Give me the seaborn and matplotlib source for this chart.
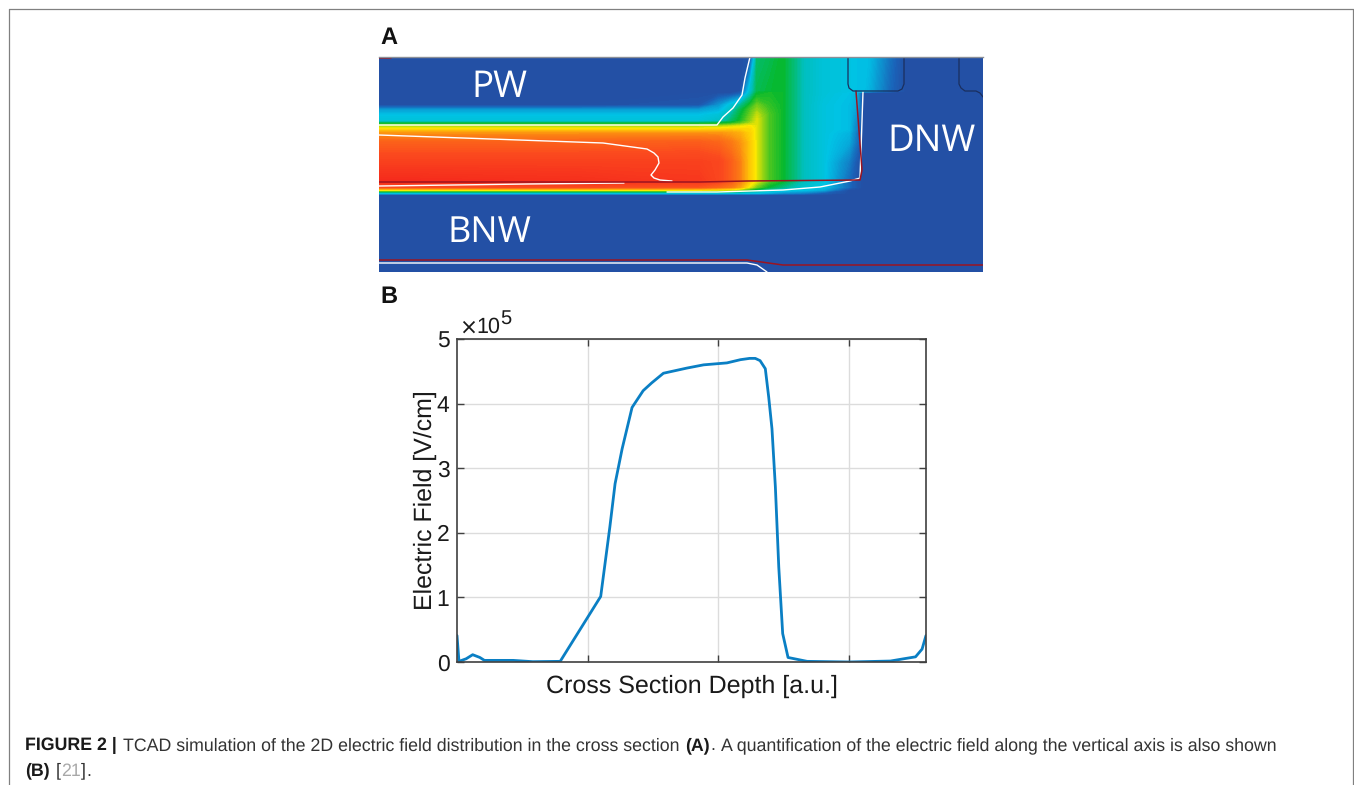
import matplotlib
matplotlib.use('Agg')
import matplotlib.pyplot as plt
import numpy as np
import seaborn as sns
from matplotlib.colors import LinearSegmentedColormap
from matplotlib.lines import Line2D

W, H = 1354, 785

# panel B curve, field in units of 1e5 V/cm
depth = [0, .015, .07, .12, .175, .21, .43, .58, .79, 1.10, 1.17, 1.21, 1.264, 1.34, 1.425, 1.49, 1.58,
         1.76, 1.888, 2.066, 2.17, 2.24, 2.283, 2.32, 2.36, 2.386, 2.411, 2.437, 2.463, 2.493, 2.534, 2.68,
         3.0, 3.318, 3.42, 3.51, 3.56, 3.59]
field = [.41, .01, .05, .113, .07, .025, .025, .005, .01, 1.015, 2.09, 2.76, 3.30, 3.94, 4.2, 4.32, 4.47,
         4.55, 4.60, 4.63, 4.68, 4.70, 4.70, 4.665, 4.54, 4.10, 3.61, 2.71, 1.47, .44, .07, .01,
         0, .015, .05, .08, .2, .41]
y_ticks = [0, 1, 2, 3, 4, 5]
x_ticks = [1, 2, 3]

# panel A field map, normalised, on an uneven grid (lateral position, depth)
a_x = [0, 200, 320, 340, 352, 361, 371, 378, 390, 404, 425, 444, 470, 478, 484, 490, 510, 526, 604]
a_y = [0, 34, 36, 48, 53, 58, 64, 66, 69, 72, 76, 85, 105, 124, 130, 133, 136, 138, 215]
a_field = [
    [0, 0, 0, 0, 0, 0, .02, .40, .42, .45, .33, .28, .26, .25, .25, .24, .10, 0, 0],
    [0, 0, 0, 0, 0, 0, .30, .42, .44, .45, .33, .28, .26, .25, .25, .22, .08, 0, 0],
    [0, 0, 0, 0, 0, .04, .32, .44, .46, .45, .33, .28, .25, .22, 0, 0, 0, 0, 0],
    [0, 0, .02, .16, .28, .36, .46, .52, .48, .45, .33, .27, .24, .20, 0, 0, 0, 0, 0],
    [.18, .18, .18, .22, .32, .42, .50, .55, .49, .45, .33, .27, .24, .18, 0, 0, 0, 0, 0],
    [.25, .25, .25, .28, .36, .44, .52, .58, .50, .45, .33, .27, .24, .16, 0, 0, 0, 0, 0],
    [.28, .28, .28, .32, .40, .46, .54, .60, .50, .45, .33, .27, .24, .14, 0, 0, 0, 0, 0],
    [.42, .42, .42, .43, .46, .50, .56, .60, .50, .45, .33, .27, .24, .13, 0, 0, 0, 0, 0],
    [.56, .56, .56, .56, .58, .60, .62, .60, .50, .45, .33, .27, .24, .12, 0, 0, 0, 0, 0],
    [.63, .63, .63, .64, .65, .65, .64, .60, .50, .45, .33, .27, .24, .12, 0, 0, 0, 0, 0],
    [.74, .74, .74, .74, .72, .70, .65, .60, .50, .45, .33, .27, .22, .10, 0, 0, 0, 0, 0],
    [.83, .83, .84, .82, .78, .74, .66, .60, .50, .45, .33, .27, .20, .09, 0, 0, 0, 0, 0],
    [.92, .92, .92, .90, .84, .77, .66, .60, .50, .45, .33, .27, .12, .03, 0, 0, 0, 0, 0],
    [1, .98, .95, .90, .84, .77, .66, .60, .50, .45, .33, .27, .08, .02, 0, 0, 0, 0, 0],
    [.88, .88, .86, .82, .78, .72, .60, .52, .44, .38, .30, .25, .08, .02, 0, 0, 0, 0, 0],
    [.62, .62, .62, .60, .58, .54, .45, .40, .34, .28, .25, .20, 0, 0, 0, 0, 0, 0, 0],
    [.27, .27, .27, .27, .26, .26, .25, .25, .20, .15, .12, .05, 0, 0, 0, 0, 0, 0, 0],
    [0, 0, 0, 0, 0, 0, 0, 0, 0, 0, 0, 0, 0, 0, 0, 0, 0, 0, 0],
    [0, 0, 0, 0, 0, 0, 0, 0, 0, 0, 0, 0, 0, 0, 0, 0, 0, 0, 0],
]

# junction contours in panel A, (lateral, depth)
white_upper = [(0, 68), (338, 68), (344, 60), (354, 51), (363, 38), (366, 21), (371, 0)]
white_inner = [(0, 78), (224, 86), (268, 92), (275, 96), (279, 100), (280, 106), (276, 113), (272, 118), (275, 121),
               (281, 123), (293, 124)]
white_mid = [(0, 129), (149, 127), (245, 126)]
white_lower = [(288, 135), (338, 135), (404, 133), (441, 130), (471, 124), (481, 121), (484, 35)]
white_deep = [(0, 206), (368, 206), (378, 208), (388, 215)]
red_main = [(0, 125), (321, 125), (368, 124), (481, 123), (483, 113), (477, 34)]
red_deep = [(0, 203), (368, 203), (404, 208), (604, 208)]
red_top = [[(0, 1), (12, 1)], [(525, 0), (580, 0)]]
well_1 = [(469, 0), (469, 27), (470, 31), (474, 34), (519, 34), (523, 32), (525, 27), (525, 0)]
well_2 = [(580, 0), (580, 27), (582, 31), (586, 34), (597, 34), (601, 36), (604, 40)]

field_cmap = LinearSegmentedColormap.from_list('field', [
    (0, '#2350a5'), (.06, '#1a62b8'), (.25, '#00c3e6'), (.33, '#00bfc0'), (.45, '#06b92d'),
    (.62, '#ffe800'), (.78, '#fb7a14'), (.88, '#fb4c1e'), (1, '#f52a1c')])

sns.set_theme(style='ticks')
plt.rcParams['font.family'] = ['Liberation Sans', 'DejaVu Sans']
plt.rcParams['text.hinting'] = 'no_hinting'

fig = plt.figure(figsize=(W / 100, H / 100), dpi=100)


def add_px_axes(x0, y0, x1, y1):
    return fig.add_axes([x0 / W, 1 - y1 / H, (x1 - x0) / W, (y1 - y0) / H])


def draw_path(ax, path, color, lw):
    xs, ys = zip(*path)
    ax.plot(xs, ys, color=color, lw=lw, solid_joinstyle='round')


# panel A
ax_a = add_px_axes(379, 57, 983, 272)
ax_a.contourf(a_x, a_y, a_field, levels=np.linspace(0, 1, 121), cmap=field_cmap, extend='both', antialiased=False)
ax_a.set_xlim(0, 604)
ax_a.set_ylim(215, 0)
ax_a.set_xticks([])
ax_a.set_yticks([])
for s in ax_a.spines.values():
    s.set_visible(False)
ax_a.spines['top'].set_visible(True)
ax_a.spines['top'].set_color('#8a8f98')
ax_a.spines['top'].set_linewidth(1)

for path in [white_upper, white_inner, white_mid, white_lower, white_deep]:
    draw_path(ax_a, path, 'white', 1.0)
for path in [red_main, red_deep] + red_top:
    draw_path(ax_a, path, '#9c1420', 1.1)
for path in [well_1, well_2]:
    draw_path(ax_a, path, '#1b2f5e', 0.9)

for label, x, y, size in [('PW', 120, 30, 26.5), ('BNW', 110, 176, 26), ('DNW', 553, 84, 26.5)]:
    ax_a.text(x, y, label, color='white', fontsize=size, ha='center', va='center', family='Open Sans')

# panel B
ax_b = add_px_axes(457, 339, 926, 662)
sns.lineplot(x=depth, y=field, sort=False, errorbar=None, color='#0a7fc4', lw=2, ax=ax_b)
ax_b.set_xlim(0, 3.59)
ax_b.set_ylim(0, 5)
ax_b.set_xticks(x_ticks)
ax_b.set_xticklabels([])
ax_b.set_yticks(y_ticks)
ax_b.grid(True, color='#dcdcdc', lw=1)
ax_b.set_axisbelow(True)
ax_b.tick_params(direction='in', length=5, width=1, color='#404040', top=True, right=True,
                 labelsize=16.5, labelcolor='#1a1a1a', pad=5.5)
for s in ax_b.spines.values():
    s.set_color('#404040')
    s.set_linewidth(1.2)
ax_b.set_xlabel('Cross Section Depth [a.u.]', fontsize=18, color='#1a1a1a', labelpad=3.5)
ax_b.set_ylabel('Electric Field [V/cm]', fontsize=17.9, color='#1a1a1a', labelpad=0)
fig.text(459 / W, 1 - 333 / H, r'$\times$', fontsize=15.5, color='#1a1a1a', va='baseline')
fig.text(476 / W, 1 - 333 / H, '10', fontsize=15.5, color='#1a1a1a', va='baseline')
fig.text(500 / W, 1 - 324 / H, '5', fontsize=14.5, color='#1a1a1a', va='baseline')

# panel letters
fig.text(380 / W, 1 - 38 / H, 'A', fontsize=17, fontweight='bold', color='#111111', va='center')
fig.text(380 / W, 1 - 297 / H, 'B', fontsize=17, fontweight='bold', color='#111111', va='center')

# page frame
frame = '#808080'
fig.add_artist(Line2D([8.5 / W, 8.5 / W], [0, 1 - 8.5 / H], color=frame, lw=0.9))
fig.add_artist(Line2D([8.5 / W, 1353 / W], [1 - 8.5 / H, 1 - 8.5 / H], color=frame, lw=0.9))
fig.add_artist(Line2D([1353 / W, 1353 / W], [0, 1 - 8.5 / H], color=frame, lw=0.9))


# caption, a run of differently styled pieces per line
def caption_line(y, runs):
    x = 25
    renderer = fig.canvas.get_renderer()
    for piece, weight, color in runs:
        t = fig.text(x / W, 1 - y / H, piece, fontsize=12.8, fontweight=weight, color=color, va='baseline')
        x = t.get_window_extent(renderer).x1 + 0.5


caption_line(750.5, [('FIGURE 2 |', 'bold', '#1a1a1a'), (' ', 'normal', '#1a1a1a'),
                     ('TCAD simulation of the 2D electric field distribution in the cross section', 'normal', '#333333'),
                     (' ', 'normal', '#1a1a1a'), ('(A)', 'bold', '#1a1a1a'), ('.', 'normal', '#333333'),
                     (' ', 'normal', '#1a1a1a'),
                     ('A quantification of the electric field along the vertical axis is also shown', 'normal', '#333333')])
caption_line(775.5, [('(B)', 'bold', '#1a1a1a'), (' ', 'normal', '#1a1a1a'), ('[', 'normal', '#333333'),
                     ('21', 'normal', '#a8a8a8'), (']', 'normal', '#333333'), ('.', 'normal', '#333333')])

fig.savefig('out.png', dpi=100)
